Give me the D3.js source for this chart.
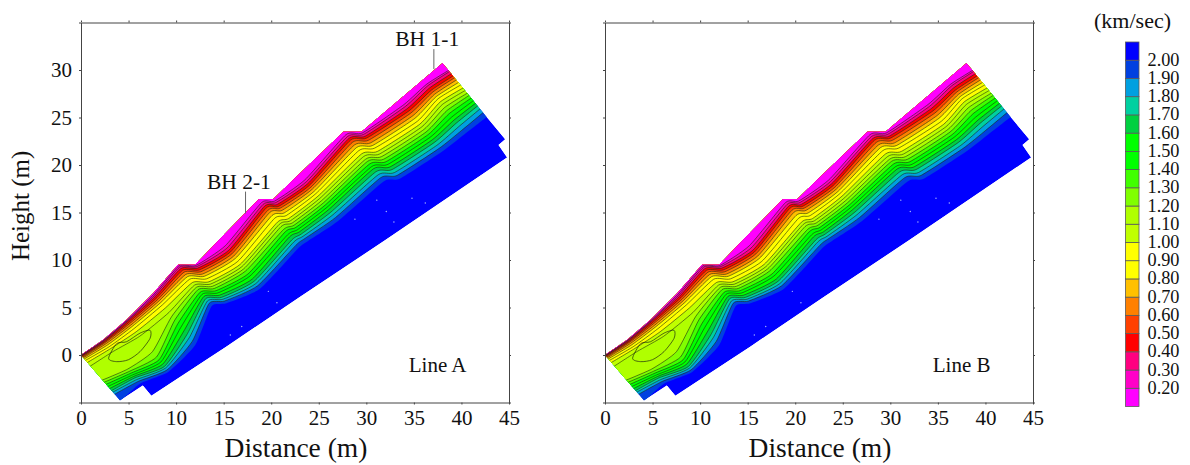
<!DOCTYPE html>
<html>
<head>
<meta charset="utf-8">
<script src="https://cdn.jsdelivr.net/npm/d3@7"></script>
<style>
body { margin: 0; background: #fff; }
svg { display: block; font-family: "Liberation Serif", serif; fill: #111; }
.axis path, .axis line { stroke: #444; }
.axis text { font-family: "Liberation Serif", serif; font-size: 21px; fill: #111; }
</style>
</head>
<body>
<svg id="chart" width="1190" height="465"></svg>
<script>
// velocity levels, low to high, one colour more than levels
const levels = [0.2,0.3,0.4,0.5,0.6,0.7,0.8,0.9,1.0,1.1,1.2,1.3,1.4,1.5,1.6,1.7,1.8,1.9,2.0];
const levelColors = ["#ff00ff","#ff00c8","#ff0080","#ff0000","#ff4000","#ff8000","#ffc000","#ffff00","#ffff00",
  "#c0ff00","#b0ff00","#80ff00","#40ff00","#00ff00","#00ff00","#00d040","#00d0a0","#00a0e0","#0040e0","#0000ff"];

// model outline in metres
const outlineX = [0,2.35,4.8,7.6,10.2,12,14.6,18.7,20.2,23,27.6,29.5,38,38.6,42.7,44.6,43.9,44.8,32,23,15.3,7.4,6.5,4.1];
const outlineY = [0,1.6,3.7,6.5,9.5,9.5,12.2,16.4,16.4,19.1,23.5,23.5,30.7,30,25,22.7,22.1,20.8,12.1,6.1,0.9,-4.3,-3.2,-4.8];

// cross sections along the slope, top point and direction into the ground
const stationX = [-0.15,2.35,4.8,7.6,10.2,12,14.6,18.7,20.2,23,27.6,29.5,33.5,36,38.79];
const stationY = [-0.13,1.6,3.7,6.5,9.5,9.5,12.2,16.4,16.4,19.1,23.5,23.5,26.9,29,30.16];
const stationDirX = [0.65,0.64,0.63,0.63,0.63,0.63,0.63,0.63,0.63,0.63,0.63,0.63,0.63,0.6,0.635];
const stationDirY = [-0.76,-0.77,-0.78,-0.78,-0.78,-0.78,-0.78,-0.78,-0.78,-0.78,-0.78,-0.78,-0.78,-0.8,-0.772];

// depth (m) of each level under each station
const levelDepths = [
  [.02,.04,.08,.15,.25,.35,.5,.7,1,1.5,3.4,3.7,4,4.3,4.6,4.9,5.1,5.4,6.4],
  [.04,.08,.15,.25,.35,.5,.7,.95,1.2,1.6,4,4.3,4.55,4.8,5,5.2,5.45,5.7,6],
  [.05,.12,.2,.35,.5,.7,.9,1.2,1.6,2.2,4.3,5,5.4,5.7,6,6.3,6.5,6.75,7],
  [.12,.25,.4,.6,.8,1,1.25,1.55,2,2.6,3.1,3.6,4.1,4.6,5.1,5.6,6,6.5,7],
  [.15,.3,.5,.75,1,1.3,1.6,1.95,2.4,2.75,3.05,3.35,3.7,4,4.3,4.6,4.9,5.2,5.6],
  [.1,.25,.45,.7,.95,1.25,1.55,1.9,2.3,2.6,2.9,3.2,3.5,3.8,4.1,4.4,4.65,4.9,5.2],
  [.9,1.2,1.5,1.75,2,2.3,2.6,3,3.4,3.7,4,4.3,4.7,5,5.4,5.7,6,6.3,6.7],
  [.45,.7,.95,1.2,1.5,1.8,2.2,2.6,3.1,3.4,3.7,4.1,4.4,4.8,5.1,5.5,5.8,6.2,6.6],
  [.25,.45,.7,.95,1.2,1.5,1.85,2.2,2.6,2.9,3.2,3.5,3.8,4.1,4.4,4.7,5,5.3,5.7],
  [.85,1.1,1.35,1.6,1.85,2.1,2.4,2.7,3.05,3.35,3.65,3.95,4.25,4.55,4.85,5.2,5.55,5.95,6.4],
  [.4,.65,.9,1.15,1.45,1.8,2.15,2.55,3,3.35,3.7,4,4.35,4.7,5,5.4,5.8,6.2,6.7],
  [.15,.35,.6,.85,1.15,1.5,1.85,2.2,2.65,3,3.35,3.7,4.05,4.4,4.75,5.1,5.5,5.9,6.35],
  [.7,.95,1.25,1.55,1.85,2.2,2.55,2.95,3.35,3.7,4.05,4.4,4.75,5.1,5.45,5.8,6.2,6.6,7.05],
  [.6,.8,1.1,1.4,1.65,1.95,2.25,2.55,2.95,3.3,3.7,4.1,4.5,4.95,5.35,5.75,6.2,6.7,7.2],
  [.1,.25,.55,.85,1.1,1.4,1.75,2.1,2.5,2.85,3.2,3.5,3.85,4.2,4.55,4.9,5.3,5.8,6.4]
];

// closed low velocity contour near the toe
const bubbleX = [2.9,3.75,4.98,6.2,7.26,7.26,6.2,4.8,3.75];
const bubbleY = [-0.35,-0.7,-0.5,0.35,1.75,2.6,2.3,1.4,1.2];

// pale flecks in the blue layer
const speckX = [31.1,32.1,36.2,28.8,32.9,34.8,19.7,20.6,15.7,16.9];
const speckY = [16.3,15.1,16,14.3,14,16.5,6.7,5.5,2.1,3];

const distanceTicks = [0,5,10,15,20,25,30,35,40,45];
const heightTicks = [-5,0,5,10,15,20,25,30,35];
const heightLabels = [0,5,10,15,20,25,30];

const svg = d3.select("#chart");

function stationPoint(i, depth) {
    return [stationX[i] + stationDirX[i] * depth, stationY[i] + stationDirY[i] * depth];
}

function drawPanel(left, right, id, name, showHeight, boreholes) {
    const x = d3.scaleLinear().domain([0, 45]).range([left, right]);
    const y = d3.scaleLinear().domain([-5, 35]).range([402.5, 22.5]);
    const g = svg.append("g");
    const bend = d3.curveCardinal.tension(0.45);

    const outline = outlineX.map((d, i) => [x(d), y(outlineY[i])]);
    g.append("clipPath").attr("id", "clip" + id)
        .append("polygon").attr("points", outline.join(" "));

    const model = g.append("g").attr("clip-path", `url(#clip${id})`);
    model.append("polygon").attr("points", outline.join(" ")).attr("fill", levelColors[levels.length]);

    // paint from deep to shallow, each area runs from above the surface down to its level
    const area = d3.area()
        .x0((d, i) => x(stationPoint(i, -3)[0]))
        .y0((d, i) => y(stationPoint(i, -3)[1]))
        .x1(d => x(d[0]))
        .y1(d => y(d[1]))
        .curve(bend);

    const contour = d3.line().x(d => x(d[0])).y(d => y(d[1])).curve(bend);

    for (let k = levels.length - 1; k >= 0; k--) {
        const pts = levelDepths.map((row, i) => stationPoint(i, row[k]));
        model.append("path").attr("d", area(pts)).attr("fill", levelColors[k]);
    }
    for (let k = 0; k < levels.length - 1; k++) {
        const pts = levelDepths.map((row, i) => stationPoint(i, row[k]));
        model.append("path").attr("d", contour(pts))
            .attr("fill", "none").attr("stroke", "#1c2a10").attr("stroke-width", 0.7).attr("stroke-opacity", 0.85);
    }
    model.append("path")
        .attr("d", contour.curve(d3.curveCardinalClosed.tension(0.2))(bubbleX.map((d, i) => [d, bubbleY[i]])))
        .attr("fill", "none").attr("stroke", "#1c2a10").attr("stroke-width", 0.7);
    model.selectAll("circle").data(speckX).enter().append("circle")
        .attr("cx", d => x(d))
        .attr("cy", (d, i) => y(speckY[i]))
        .attr("r", 0.7)
        .attr("fill", "#a8b4ff");

    // four sided frame
    const xBottom = d3.axisBottom(x).tickValues(distanceTicks).tickSize(2).tickPadding(6).tickSizeOuter(0);
    const xTop = d3.axisTop(x).tickValues(distanceTicks).tickSize(2).tickFormat("").tickSizeOuter(0);
    const yLeft = d3.axisLeft(y).tickValues(heightTicks).tickSize(2).tickPadding(7).tickSizeOuter(0)
        .tickFormat(d => showHeight && heightLabels.includes(d) ? d : "");
    const yRight = d3.axisRight(y).tickValues(heightTicks).tickSize(2).tickFormat("").tickSizeOuter(0);

    g.append("g").attr("class", "axis").attr("transform", "translate(0,402.5)").call(xBottom);
    g.append("g").attr("class", "axis").attr("transform", "translate(0,22.5)").call(xTop);
    g.append("g").attr("class", "axis").attr("transform", `translate(${left},0)`).call(yLeft);
    g.append("g").attr("class", "axis").attr("transform", `translate(${right},0)`).call(yRight);

    g.append("text").attr("x", (left + right) / 2 + 1).attr("y", 457)
        .attr("text-anchor", "middle").attr("font-size", 27.5).text("Distance (m)");

    g.append("text").attr("x", x(37.5)).attr("y", y(-1.8))
        .attr("text-anchor", "middle").attr("font-size", 21).text(name);

    boreholes.forEach(b => {
        g.append("text").attr("x", x(b.labelX)).attr("y", y(b.labelY))
            .attr("text-anchor", "middle").attr("font-size", 21.5).text(b.name);
        g.append("line")
            .attr("x1", x(b.x)).attr("x2", x(b.x))
            .attr("y1", y(b.from)).attr("y2", y(b.to))
            .attr("stroke", "#666").attr("stroke-width", 1);
    });

    if (showHeight) {
        g.append("text").attr("transform", `translate(29,${y(15.7)}) rotate(-90)`)
            .attr("text-anchor", "middle").attr("font-size", 25).text("Height (m)");
    }
}

const boreholeLabels = [
    { name: "BH 2-1", labelX: 16.6, labelY: 17.5, x: 17.3, from: 17.2, to: 14.9 },
    { name: "BH 1-1", labelX: 36.4, labelY: 32.5, x: 37.1, from: 32.2, to: 30.1 }
];

drawPanel(81, 509, "A", "Line A", true, boreholeLabels);
drawPanel(605, 1033, "B", "Line B", false, []);

// colour bar
const barY = d3.scaleLinear().domain([0.1, 2.1]).range([406.5, 42]);
const bar = svg.append("g");
levelColors.forEach((c, i) => {
    const low = i === 0 ? 0.1 : levels[i - 1];
    const high = i === levels.length ? 2.1 : levels[i];
    bar.append("rect")
        .attr("x", 1125.5).attr("width", 13.5)
        .attr("y", barY(high)).attr("height", barY(low) - barY(high))
        .attr("fill", c).attr("stroke", "#5a5a5a").attr("stroke-width", 0.8);
});
bar.selectAll("text.level").data(levels).enter().append("text")
    .attr("class", "level")
    .attr("x", 1147.5).attr("y", d => barY(d) + 5.5)
    .attr("font-size", 18.3)
    .text(d => d.toFixed(2));
bar.append("text").attr("x", 1132.5).attr("y", 28)
    .attr("text-anchor", "middle").attr("font-size", 22).text("(km/sec)");
</script>
</body>
</html>
